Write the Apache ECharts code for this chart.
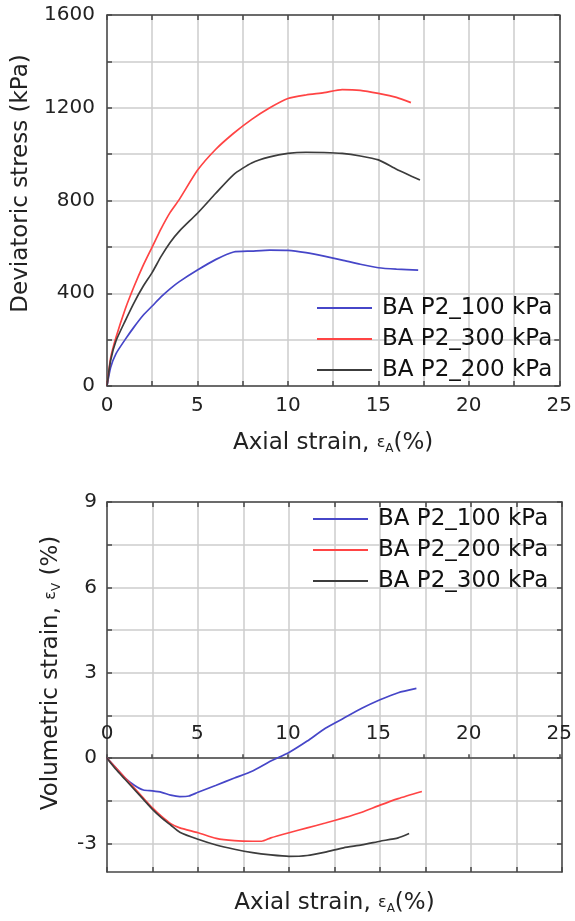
<!DOCTYPE html>
<html>
<head>
<meta charset="utf-8">
<script src="https://cdn.jsdelivr.net/npm/echarts@6/dist/echarts.min.js"></script>
<style>html,body{margin:0;padding:0;background:#fff}#c{width:575px;height:921px}</style>
</head>
<body>
<div id="c"></div>
<script>
// ---------- Data ----------
// Top chart: deviatoric stress (kPa) vs axial strain (%)
const seriesNamesTop = ['BA P2_100 kPa', 'BA P2_300 kPa', 'BA P2_200 kPa'];
const strainTop100 = [0, 0.2, 0.5, 1, 1.5, 2, 2.5, 3, 3.5, 4, 5, 6, 7, 8, 9, 10, 11, 12, 13, 14, 15, 16, 17.2];
const stressTop100 = [0, 80, 140, 200, 255, 305, 345, 385, 420, 450, 500, 545, 578, 582, 586, 585, 575, 560, 543, 525, 510, 504, 500];
const strainTop300 = [0, 0.2, 0.5, 1, 1.5, 2, 2.5, 3, 3.5, 4, 5, 6, 7, 8, 9, 10, 11, 12, 13, 14, 15, 16, 16.8];
const stressTop300 = [0, 120, 210, 330, 430, 520, 600, 680, 750, 805, 930, 1020, 1090, 1150, 1200, 1240, 1255, 1265, 1278, 1275, 1262, 1245, 1222];
const strainTop200 = [0, 0.2, 0.5, 1, 1.5, 2, 2.5, 3, 3.5, 4, 5, 6, 7, 8, 9, 10, 11, 12, 13, 14, 15, 16, 17.3];
const stressTop200 = [0, 110, 195, 280, 360, 430, 490, 560, 620, 668, 745, 830, 912, 962, 988, 1003, 1008, 1007, 1003, 992, 975, 935, 888];

// Bottom chart: volumetric strain (%) vs axial strain (%)
const seriesNamesBot = ['BA P2_100 kPa', 'BA P2_200 kPa', 'BA P2_300 kPa'];
const strainBot100 = [0, 0.5, 1, 1.5, 2, 2.5, 3, 3.5, 4, 4.5, 5, 6, 7, 8, 9, 10, 11, 12, 13, 14, 15, 16, 17];
const volBot100 = [0, -0.35, -0.7, -0.95, -1.12, -1.15, -1.2, -1.3, -1.35, -1.33, -1.2, -0.95, -0.7, -0.45, -0.1, 0.2, 0.6, 1.05, 1.4, 1.75, 2.05, 2.3, 2.45];
const strainBot200 = [0, 0.5, 1, 1.5, 2, 2.5, 3, 3.5, 4, 5, 6, 7, 8, 8.5, 9, 10, 11, 12, 13, 14, 15, 16, 17.3];
const volBot200 = [0, -0.35, -0.7, -1.05, -1.4, -1.75, -2.05, -2.3, -2.45, -2.62, -2.82, -2.9, -2.92, -2.92, -2.8, -2.62, -2.45, -2.28, -2.1, -1.9, -1.65, -1.42, -1.17];
const strainBot300 = [0, 0.5, 1, 1.5, 2, 2.5, 3, 3.5, 4, 5, 6, 7, 8, 9, 10, 11, 12, 13, 14, 15, 16, 16.6];
const volBot300 = [0, -0.4, -0.75, -1.1, -1.45, -1.8, -2.1, -2.35, -2.6, -2.85, -3.05, -3.2, -3.32, -3.4, -3.45, -3.42, -3.3, -3.15, -3.05, -2.92, -2.8, -2.65];

// Tick values
const xTicks = { min: 0, max: 25, interval: 2.5, labelStep: 5 };
const topYTicks = { min: 0, max: 1600, interval: 200, labelStep: 400 };
const botYTickValues = [-3, -1.5, 0, 1.5, 3, 4.5, 6, 7.5, 9];
const botYLabelValues = [-3, 0, 3, 6, 9];
const botYRange = { min: -4, max: 9 };

// ---------- Styling ----------
const FONT = 'DejaVu Sans, sans-serif';
const BLUE = '#4646c8', RED = '#ff4444', BLACK = '#3c3c3c';
const AXIS_COLOR = '#474747', GRID_COLOR = '#cdcdcd';

function zip(xs, ys) { return xs.map((x, i) => [x, ys[i]]); }
function stepFmt(step) { return v => (Math.abs(v / step - Math.round(v / step)) < 1e-9 ? String(v) : ''); }

const axisLine = { show: true, onZero: false, lineStyle: { color: AXIS_COLOR, width: 1.5 } };
const tick = { show: true, inside: true, length: 5, lineStyle: { color: AXIS_COLOR, width: 1.5 } };
const split = { show: true, lineStyle: { color: GRID_COLOR, width: 1.5 } };
const labelStyle = { color: '#222', fontSize: 20, fontFamily: FONT };
const nameRich = {
  e: { fontSize: 16, fontFamily: FONT, color: '#222' },
  sub: { fontSize: 12, fontFamily: FONT, color: '#222', padding: [12, 0, 0, 0] }
};
const nameStyle = { fontSize: 23, fontFamily: FONT, color: '#222' };
const legendText = { fontSize: 23, fontFamily: FONT, color: '#111', padding: [0, 0, 0, 5] };

// Bottom grid geometry: zero line sits inside the box
const botGrid = { left: 107, right: 13, top: 502, height: 370 };
const zeroGridHeight = botGrid.height * (botYRange.max - 0) / (botYRange.max - botYRange.min);

const option = {
  animation: false,
  backgroundColor: '#fff',
  grid: [
    { left: 107, right: 13, top: 15, height: 371 },
    botGrid,
    { left: botGrid.left, right: botGrid.right, top: botGrid.top, height: zeroGridHeight }
  ],
  legend: [
    {
      orient: 'vertical', left: 317, top: 296.5, padding: 0, itemWidth: 55, itemHeight: 2, itemGap: 8, icon: 'rect',
      textStyle: legendText,
      data: [
        { name: seriesNamesTop[0], itemStyle: { color: BLUE } },
        { name: seriesNamesTop[1], itemStyle: { color: RED } },
        { name: seriesNamesTop[2], itemStyle: { color: BLACK } }
      ]
    },
    {
      orient: 'vertical', left: 313, top: 507.5, padding: 0, itemWidth: 55, itemHeight: 2, itemGap: 8, icon: 'rect',
      textStyle: legendText,
      data: [
        { name: seriesNamesBot[0], itemStyle: { color: BLUE } },
        { name: seriesNamesBot[1], itemStyle: { color: RED } },
        { name: seriesNamesBot[2], itemStyle: { color: BLACK } }
      ]
    }
  ],
  xAxis: [
    // 0: top chart bottom axis
    {
      type: 'value', gridIndex: 0, position: 'bottom', min: xTicks.min, max: xTicks.max, interval: xTicks.interval,
      axisLine, axisTick: tick, splitLine: split,
      axisLabel: { ...labelStyle, margin: 10, formatter: stepFmt(xTicks.labelStep) },
      name: 'Axial strain, {e|ε}{sub|A}(%)', nameLocation: 'middle', nameGap: 45,
      nameTextStyle: { ...nameStyle, rich: nameRich }
    },
    // 1: top chart top edge
    {
      type: 'value', gridIndex: 0, position: 'top', min: xTicks.min, max: xTicks.max, interval: xTicks.interval,
      axisLine, axisTick: tick, splitLine: { show: false }, axisLabel: { show: false }
    },
    // 2: bottom chart box-bottom edge
    {
      type: 'value', gridIndex: 1, position: 'bottom', min: xTicks.min, max: xTicks.max, interval: xTicks.interval,
      axisLine, axisTick: tick, splitLine: split, axisLabel: { show: false },
      name: 'Axial strain, {e|ε}{sub|A}(%)', nameLocation: 'middle', nameGap: 19,
      nameTextStyle: { ...nameStyle, rich: nameRich }
    },
    // 3: bottom chart zero line with labels above it
    {
      type: 'value', gridIndex: 2, position: 'bottom', min: xTicks.min, max: xTicks.max, interval: xTicks.interval,
      axisLine,
      axisTick: { show: true, inside: true, length: 4, lineStyle: { color: AXIS_COLOR, width: 1.5 } },
      splitLine: { show: false },
      axisLabel: { ...labelStyle, inside: true, margin: 14, formatter: stepFmt(xTicks.labelStep) }
    },
    // 4: bottom chart top edge
    {
      type: 'value', gridIndex: 1, position: 'top', min: xTicks.min, max: xTicks.max, interval: xTicks.interval,
      axisLine, axisTick: tick, splitLine: { show: false }, axisLabel: { show: false }
    }
  ],
  yAxis: [
    // 0: top chart left
    {
      type: 'value', gridIndex: 0, position: 'left', min: topYTicks.min, max: topYTicks.max, interval: topYTicks.interval,
      axisLine, axisTick: tick, splitLine: split,
      axisLabel: { ...labelStyle, margin: 12, formatter: stepFmt(topYTicks.labelStep) },
      name: 'Deviatoric stress (kPa)', nameLocation: 'middle', nameGap: 74,
      nameTextStyle: { ...nameStyle, padding: [0, 0, 0, 34] }
    },
    // 1: top chart right
    {
      type: 'value', gridIndex: 0, position: 'right', min: topYTicks.min, max: topYTicks.max, interval: topYTicks.interval,
      axisLine, axisTick: tick, splitLine: { show: false }, axisLabel: { show: false }
    },
    // 2: bottom chart left
    {
      type: 'value', gridIndex: 1, position: 'left', min: botYRange.min, max: botYRange.max,
      axisLine, axisTick: { ...tick, customValues: botYTickValues }, splitLine: split,
      axisLabel: { ...labelStyle, margin: 10, customValues: botYLabelValues },
      name: 'Volumetric strain, {e|ε}{sub|V} (%)', nameLocation: 'middle', nameGap: 44,
      nameTextStyle: { ...nameStyle, padding: [0, 0, 0, 28], rich: nameRich }
    },
    // 3: bottom chart right
    {
      type: 'value', gridIndex: 1, position: 'right', min: botYRange.min, max: botYRange.max,
      axisLine, axisTick: { ...tick, customValues: botYTickValues }, splitLine: { show: false },
      axisLabel: { show: false, customValues: botYLabelValues }
    },
    // 4: helper axis for the zero-line grid (hidden)
    {
      type: 'value', gridIndex: 2, min: 0, max: botYRange.max, show: false
    }
  ],
  series: [
    { name: seriesNamesTop[0], type: 'line', xAxisIndex: 0, yAxisIndex: 0, data: zip(strainTop100, stressTop100), color: BLUE },
    { name: seriesNamesTop[1], type: 'line', xAxisIndex: 0, yAxisIndex: 0, data: zip(strainTop300, stressTop300), color: RED },
    { name: seriesNamesTop[2], type: 'line', xAxisIndex: 0, yAxisIndex: 0, data: zip(strainTop200, stressTop200), color: BLACK },
    { name: seriesNamesBot[0], type: 'line', xAxisIndex: 2, yAxisIndex: 2, data: zip(strainBot100, volBot100), color: BLUE },
    { name: seriesNamesBot[1], type: 'line', xAxisIndex: 2, yAxisIndex: 2, data: zip(strainBot200, volBot200), color: RED },
    { name: seriesNamesBot[2], type: 'line', xAxisIndex: 2, yAxisIndex: 2, data: zip(strainBot300, volBot300), color: BLACK }
  ].map(s => ({ ...s, symbol: 'none', smooth: 0.2, lineStyle: { width: 1.7, color: s.color }, itemStyle: { color: s.color } }))
};

const chart = echarts.init(document.getElementById('c'), null, { renderer: 'canvas' });
chart.setOption(option);
</script>
</body>
</html>
